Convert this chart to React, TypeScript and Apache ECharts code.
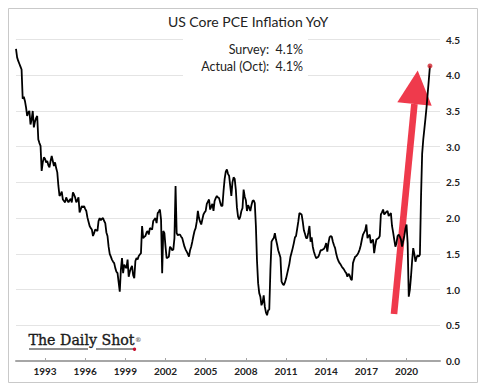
import React, { useEffect, useRef } from "react";
import * as echarts from "echarts";

// Monthly US Core PCE YoY (%). Series starts Nov 1990.
const START_YEAR = 1990;
const START_MONTH = 11;
const v1990 = [4.37, 4.25];
const v1991 = [4.2, 4.16, 4.12, 4.08, 3.67, 3.7, 3.64, 3.55, 3.43, 3.48, 3.5, 3.31];
const v1992 = [3.38, 3.5, 3.27, 3.35, 3.4, 3.43, 3.1, 3.05, 3.01, 2.66, 2.78, 2.85];
const v1993 = [2.83, 2.78, 2.8, 2.74, 2.71, 2.8, 2.87, 2.8, 2.73, 2.78, 2.7, 2.64];
const v1994 = [2.45, 2.31, 2.33, 2.37, 2.26, 2.24, 2.22, 2.29, 2.25, 2.22, 2.25, 2.27];
const v1995 = [2.22, 2.36, 2.33, 2.29, 2.22, 2.25, 2.29, 2.08, 2.12, 2.17, 2.15, 2.17];
const v1996 = [2.13, 2.1, 2.01, 1.95, 1.89, 1.86, 1.84, 1.75, 1.79, 1.84, 1.83, 1.82];
const v1997 = [1.96, 2.0, 1.97, 1.99, 2.0, 1.96, 1.93, 1.8, 1.75, 1.6, 1.5, 1.46];
const v1998 = [1.42, 1.39, 1.37, 1.3, 1.25, 1.23, 1.1, 0.97, 1.28, 1.44, 1.23, 1.35];
const v1999 = [1.32, 1.3, 1.42, 1.18, 1.25, 1.3, 1.33, 1.2, 1.16, 1.4, 1.44, 1.42];
const v2000 = [1.47, 1.49, 1.51, 1.89, 1.72, 1.74, 1.75, 1.8, 1.82, 1.77, 1.86, 1.85];
const v2001 = [1.84, 1.96, 1.98, 2.0, 1.93, 2.07, 2.09, 2.12, 1.98, 1.23, 1.82, 1.79];
const v2002 = [1.6, 1.44, 1.45, 1.46, 1.6, 1.58, 1.55, 1.56, 1.72, 2.45, 1.79, 1.76];
const v2003 = [1.77, 1.77, 1.74, 1.72, 1.66, 1.6, 1.56, 1.53, 1.5, 1.46, 1.55, 1.6];
const v2004 = [1.67, 1.75, 1.82, 1.86, 1.95, 2.1, 2.0, 1.95, 1.91, 1.98, 2.05, 2.08];
const v2005 = [2.1, 2.2, 2.23, 2.26, 2.12, 2.16, 2.2, 2.1, 2.24, 2.28, 2.31, 2.29];
const v2006 = [2.28, 2.22, 2.17, 2.17, 2.38, 2.55, 2.65, 2.68, 2.62, 2.59, 2.45, 2.31];
const v2007 = [2.5, 2.57, 2.55, 2.4, 2.15, 2.02, 1.98, 2.02, 2.1, 2.14, 2.4, 2.3];
const v2008 = [2.25, 2.1, 2.18, 2.15, 2.1, 2.18, 2.24, 2.25, 2.21, 1.89, 1.4, 1.09];
const v2009 = [0.95, 0.9, 0.78, 0.82, 0.92, 0.76, 0.68, 0.64, 0.71, 0.72, 1.27, 1.67];
const v2010 = [1.7, 1.72, 1.79, 1.7, 1.63, 1.55, 1.5, 1.45, 1.11, 1.08, 1.06, 1.1];
const v2011 = [1.15, 1.22, 1.29, 1.36, 1.46, 1.52, 1.58, 1.65, 1.73, 1.75, 1.85, 1.95];
const v2012 = [2.07, 2.06, 2.05, 1.95, 1.83, 1.78, 1.72, 1.72, 1.8, 1.89, 1.67, 1.73];
const v2013 = [1.6, 1.53, 1.48, 1.44, 1.45, 1.46, 1.5, 1.55, 1.55, 1.56, 1.57, 1.6];
const v2014 = [1.65, 1.53, 1.65, 1.73, 1.75, 1.74, 1.67, 1.62, 1.58, 1.5, 1.44, 1.4];
const v2015 = [1.37, 1.35, 1.32, 1.3, 1.28, 1.25, 1.23, 1.18, 1.22, 1.2, 1.15, 1.13];
const v2016 = [1.37, 1.42, 1.46, 1.47, 1.49, 1.52, 1.56, 1.62, 1.7, 1.77, 1.8, 1.83];
const v2017 = [1.91, 1.72, 1.75, 1.77, 1.65, 1.68, 1.7, 1.51, 1.62, 1.7, 1.71, 1.72];
const v2018 = [1.75, 2.05, 2.08, 2.12, 2.05, 2.07, 2.09, 2.1, 2.03, 2.05, 2.07, 1.89];
const v2019 = [1.8, 1.7, 1.6, 1.65, 1.75, 1.77, 1.74, 1.7, 1.6, 1.68, 1.75, 1.85];
const v2020 = [1.91, 1.65, 0.9, 1.0, 1.18, 1.4, 1.58, 1.5, 1.39, 1.45, 1.48, 1.46];
const v2021 = [1.49, 2.3, 2.9, 3.1, 3.25, 3.4, 3.56, 3.75, 3.94, 4.13];
const PAD_MONTHS = 9; // empty space on the axis after the last observation

const TICK_YEARS = ["1993", "1996", "1999", "2002", "2005", "2008", "2011", "2014", "2017", "2020"];
const TITLE = "US Core PCE Inflation YoY";
const NOTE_LINES = ["Survey:  4.1%", "Actual (Oct):  4.1%"];

const VALUES: (number | null)[] = [
  ...v1990, ...v1991, ...v1992, ...v1993, ...v1994, ...v1995, ...v1996, ...v1997,
  ...v1998, ...v1999, ...v2000, ...v2001, ...v2002, ...v2003, ...v2004, ...v2005,
  ...v2006, ...v2007, ...v2008, ...v2009, ...v2010, ...v2011, ...v2012, ...v2013,
  ...v2014, ...v2015, ...v2016, ...v2017, ...v2018, ...v2019, ...v2020, ...v2021,
];
const LAST_INDEX = VALUES.length - 1;
const LAST_VALUE = VALUES[LAST_INDEX] as number;
const SERIES: (number | null)[] = [...VALUES, ...new Array(PAD_MONTHS).fill(null)];

const CATEGORIES: string[] = SERIES.map((_, i) => {
  const m0 = START_MONTH - 1 + i;
  const y = START_YEAR + Math.floor(m0 / 12);
  const m = (m0 % 12) + 1;
  return `${y}-${m < 10 ? "0" + m : m}`;
});

const isTick = (_idx: number, value: string) => {
  const [y, m] = value.split("-");
  return m === "01" && TICK_YEARS.includes(y);
};

const FONT = "Lato, 'Open Sans', sans-serif";
const RED = "#ef3a4c";
const SERIF = "'DejaVu Serif', serif";

export default function App() {
  const ref = useRef<HTMLDivElement>(null);
  useEffect(() => {
    if (!ref.current) return;
    const chart = echarts.init(ref.current, undefined, { renderer: "svg" });
    chart.setOption({
      animation: false,
      backgroundColor: "#ffffff",
      title: {
        text: TITLE,
        left: "center",
        top: 9,
        textStyle: { fontFamily: FONT, fontSize: 14, fontWeight: "normal", color: "#222" },
      },
      grid: { left: 16, right: 56, top: 39.5, bottom: 30, containLabel: false },
      xAxis: {
        type: "category",
        data: CATEGORIES,
        boundaryGap: false,
        axisLine: { show: true, lineStyle: { color: "#a6a6a6", width: 2 } },
        axisTick: { show: true, inside: true, length: 3, interval: isTick, lineStyle: { color: "#a6a6a6" } },
        axisLabel: {
          interval: isTick,
          formatter: (v: string) => v.slice(0, 4),
          fontFamily: FONT,
          fontSize: 10,
          fontWeight: "bold",
          color: "#222",
          margin: 5,
        },
        splitLine: { show: false },
      },
      yAxis: {
        type: "value",
        position: "right",
        min: 0,
        max: 4.5,
        interval: 0.5,
        axisLine: { show: false },
        axisTick: { show: false },
        axisLabel: {
          formatter: (v: number) => v.toFixed(1),
          fontFamily: FONT,
          fontSize: 10,
          fontWeight: "bold",
          color: "#222",
          margin: 6,
        },
        splitLine: { lineStyle: { color: "#e4e4e4", width: 1 } },
      },
      series: [
        {
          type: "line",
          data: SERIES,
          showSymbol: false,
          connectNulls: false,
          lineStyle: { color: "#000", width: 1.8 },
          z: 3,
        },
        {
          type: "scatter",
          data: [[LAST_INDEX, LAST_VALUE]],
          symbol: "circle",
          symbolSize: 5,
          itemStyle: { color: "#d0202a" },
          z: 4,
        },
      ],
      graphic: [
        {
          type: "rect",
          shape: { x: 8.5, y: 8.5, width: 469, height: 374 },
          style: { fill: "none", stroke: "#c9c9c9", lineWidth: 1 },
          z: 10,
        },
        {
          type: "rect",
          shape: { x: 183, y: 34, width: 125, height: 46 },
          style: { fill: "#ffffff" },
          z: 1,
        },
        {
          type: "text",
          x: 303,
          y: 49,
          style: { text: NOTE_LINES[0], textAlign: "right", textVerticalAlign: "middle", fontFamily: FONT, fontSize: 12.5, fill: "#222" },
          z: 2,
        },
        {
          type: "text",
          x: 303,
          y: 66,
          style: { text: NOTE_LINES[1], textAlign: "right", textVerticalAlign: "middle", fontFamily: FONT, fontSize: 12.5, fill: "#222" },
          z: 2,
        },
        {
          type: "polygon",
          shape: { points: [[390.7, 313.7], [397.3, 314.3], [417.7, 104.3], [411.1, 103.7]] },
          style: { fill: RED },
          z: 2,
        },
        {
          type: "polygon",
          shape: { points: [[397.3, 102.3], [417.7, 70.5], [431.7, 105.7]] },
          style: { fill: RED },
          z: 2,
        },
        {
          type: "text",
          x: 28.5,
          y: 347,
          style: {
            text: "The Daily Shot",
            textAlign: "left",
            textVerticalAlign: "bottom",
            fontFamily: SERIF,
            fontSize: 14.2,
            fill: "#1a1a1a",
            stroke: "#1a1a1a",
            lineWidth: 0.35,
          },
          z: 2,
        },
        {
          type: "line",
          shape: { x1: 29, y1: 349, x2: 88, y2: 349 },
          style: { stroke: "#222", lineWidth: 1 },
          z: 2,
        },
        {
          type: "line",
          shape: { x1: 96, y1: 349, x2: 134, y2: 349 },
          style: { stroke: "#222", lineWidth: 1 },
          z: 2,
        },
        {
          type: "circle",
          shape: { cx: 134.5, cy: 349.2, r: 1.7 },
          style: { fill: "#c8102e" },
          z: 3,
        },
        {
          type: "text",
          x: 135,
          y: 339.5,
          style: { text: "®", textAlign: "left", textVerticalAlign: "middle", fontFamily: SERIF, fontSize: 6.5, fill: "#333" },
          z: 2,
        },
      ],
    });
    return () => chart.dispose();
  }, []);
  return (
    <div style={{ position: "fixed", left: 0, top: 0, width: 496, height: 391, background: "#fff" }}>
      <div ref={ref} style={{ width: 496, height: 391 }} />
    </div>
  );
}
